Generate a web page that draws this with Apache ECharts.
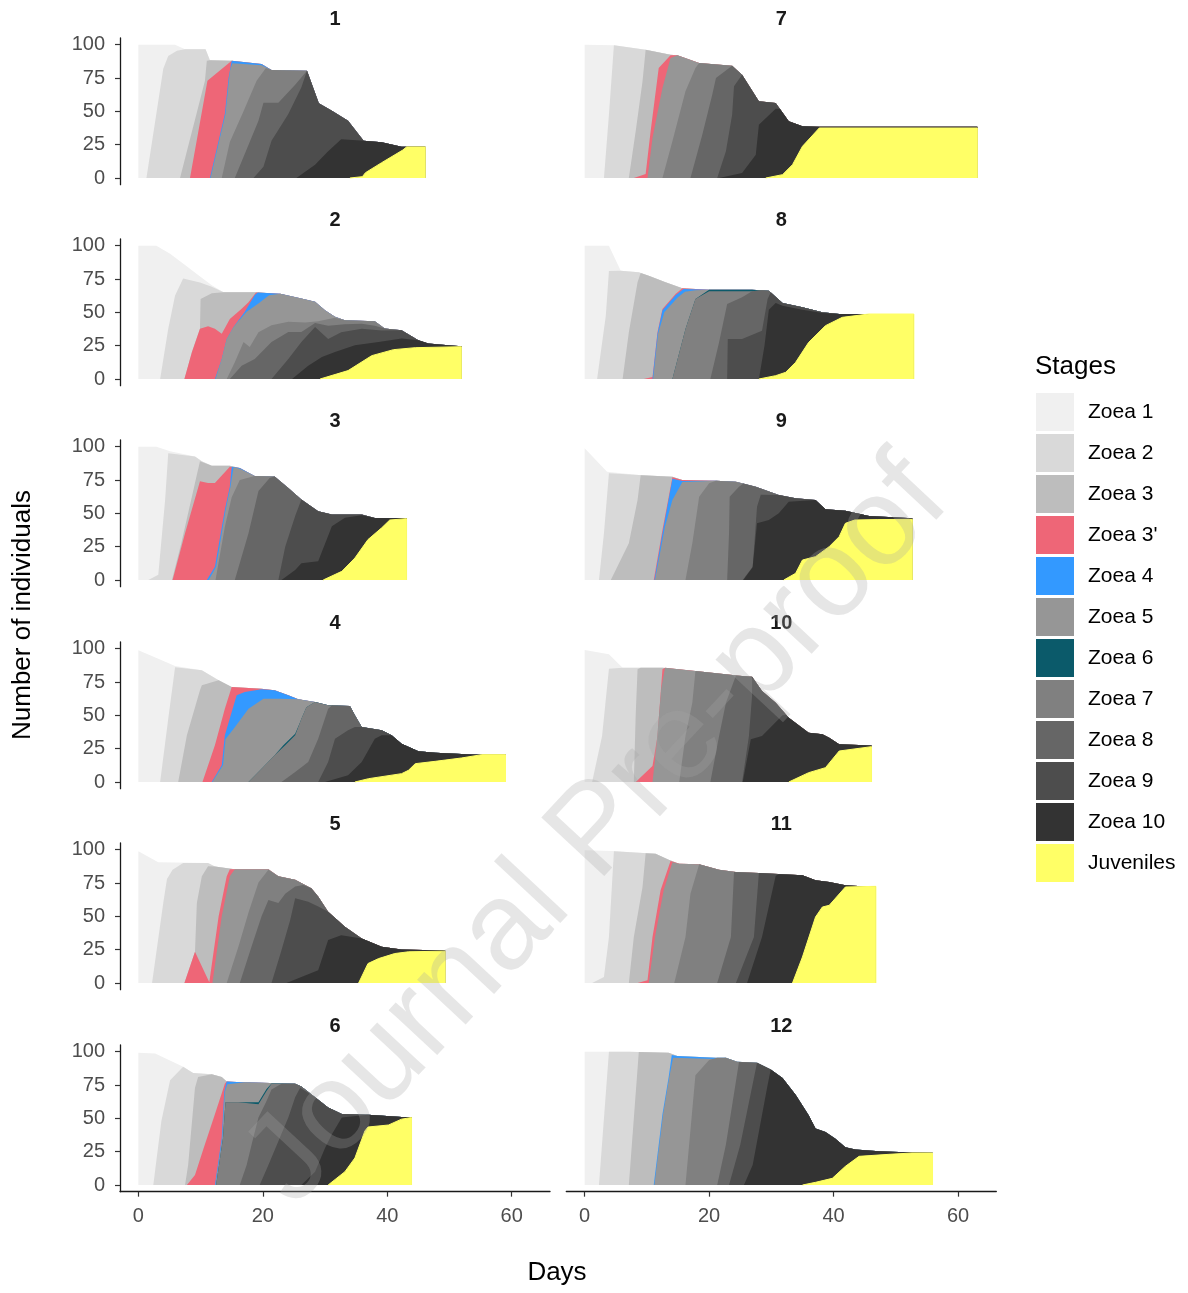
<!DOCTYPE html>
<html>
<head>
<meta charset="utf-8">
<script src="https://cdn.jsdelivr.net/npm/echarts@6/dist/echarts.min.js"></script>
<style>
html,body{margin:0;padding:0;background:#fff;}
#chart{width:1188px;height:1293px;}
</style>
</head>
<body>
<div id="chart"></div>
<script>
// ---------------- data ----------------
const stageNames = ['Zoea 1','Zoea 2','Zoea 3',"Zoea 3'",'Zoea 4','Zoea 5','Zoea 6','Zoea 7','Zoea 8','Zoea 9','Zoea 10','Juveniles'];
const stageColors = ['#F0F0F0','#D9D9D9','#BDBDBD','#EE6677','#3399FF','#969696','#0B5A6A','#808080','#666666','#4D4D4D','#333333','#FFFF66'];
const panelLabels = ['1','2','3','4','5','6','7','8','9','10','11','12'];
const dayTicks = [0,20,40,60];
const countTicks = [0,25,50,75,100];

// Upper edge (stacked top) of each stage, per panel, as [day, individuals];
// each edge is listed until it joins the edge of the stage above it.
const topZoea1 = [
 [[0,100],[5.9,100],[7.5,96.5],[10.8,96.5],[11.5,88.4],[15,88],[19.8,85.5],[21.4,81],[27.1,80.5],[29,56],[31.1,50.4],[33.7,43],[36.2,28],[39.1,26.8],[42.3,23.5],[46.1,23.5]],
 [[0,100],[2.9,100],[5.1,94],[7.5,85.5],[9.6,78],[11.8,70.4],[13.7,65],[18.7,65],[22.8,64],[26.2,60.4],[28.4,57.9],[30,51.6],[31.6,46.6],[33.2,44],[38,43.4],[39.6,37.8],[42.3,36.6],[45,29],[46.6,26.6],[49.8,25.3],[51.9,24.5]],
 [[0,100],[2.9,100],[5.1,96.5],[9.1,92.7],[10.2,89],[11.8,85.7],[14.7,85.7],[16.3,84],[18.7,78],[21.9,77.7],[24.1,69],[26.2,60.4],[28.9,51.6],[31.1,49.1],[35.9,49.1],[38,46.5],[40.2,46.5],[43.1,46.5]],
 [[0,98.75],[3.2,92.5],[5.9,87],[10.2,83.75],[12.9,76.25],[15,71.25],[19.8,70],[21.9,68.75],[24.1,65],[25.7,62],[28.4,60],[30.5,57.5],[34,57],[34.8,50],[35.9,41.25],[39.1,38.75],[40.7,35],[42.3,28.75],[45,23],[47.7,22],[51.9,21],[55.2,20.5],[59,20.5]],
 [[0,98.75],[3.2,90.5],[11.2,90],[12.3,87.4],[15.5,85.4],[20.9,85.4],[22.5,80],[25.2,77.4],[27.8,71],[28.9,64.8],[30.5,53.5],[33.2,42.2],[35.9,33.4],[39.1,27.1],[42.3,25.1],[49.3,24.4]],
 [[0,99.2],[2.7,98.7],[7.2,88.6],[8.8,84],[11.8,83],[13.4,81],[14.2,77.7],[15.8,77.2],[25.2,75.9],[26.2,73.9],[28.4,65.8],[30.5,58.2],[32.7,53.2],[36.9,52.7],[42.3,51],[43.9,51]],
 [[0,100],[4.7,99.5],[9.8,96.25],[13.8,92.5],[14.9,92],[18.4,86.25],[23.7,84.25],[25.3,77.5],[28,57.5],[30.7,56.25],[32.8,42.5],[35,38.75],[37.7,38.4],[63.1,38.4]],
 [[0,100],[3.9,100],[5.8,81.25],[8.7,80],[10.3,77.5],[13,72.5],[15.7,68],[20,67],[26.9,67],[29.6,66.25],[31.8,57],[35,53.75],[38.2,50],[40.9,48.75],[45.7,48.75],[52.9,48.75]],
 [[0,98.75],[3.6,81.25],[8.7,78.75],[14.1,77.5],[15.7,75],[21.1,74.5],[24.3,73.75],[27.5,70],[31.2,63.75],[33.9,61.25],[37.1,60],[38.7,53],[41.9,52],[45.7,48],[52.65,46.3]],
 [[0,99],[3.9,95.75],[6.1,85.75],[12.5,85.75],[17.8,83.25],[25.3,79.5],[26.9,79],[28.5,68.25],[30.7,59.5],[32.8,48.25],[36,37],[38.2,35.75],[39.3,33.25],[40.9,28.25],[46.1,27.3]],
 [[0,99.5],[4.4,99],[11.4,97],[13.5,92.5],[15.2,89.5],[18.4,89],[21.6,85],[24.3,83.25],[28,82.5],[35,80.75],[37.1,77],[39.3,75.75],[41.9,73.25],[44.6,72.5],[46.8,72.5]],
 [[0,100],[7.1,100],[13.5,99.2],[14.9,96.7],[21.1,95.4],[22.7,95.4],[24.5,92.4],[27.7,91.6],[29.9,86.6],[31.8,80.3],[33.9,67.6],[36,52.4],[37.1,42.3],[38.7,39.7],[40.3,34.7],[41.9,28.4],[43.5,26.6],[47.3,25.3],[52.6,24.3],[55.9,24.1]]
];
const topZoea2 = [
 [[1.3,0],[4,82],[4.8,91.5],[6.2,95.5],[7.5,96.5]],
 [[3.5,0],[4.8,37.6],[5.9,62.7],[7.2,75.4],[9.9,72.4],[11.8,69.2],[13.7,65]],
 [[1.6,0],[3.2,4],[4.3,60],[4.8,95],[5.1,96.5]],
 [[3.5,0],[4.8,47.5],[5.9,86],[10.2,83.75]],
 [[2.2,0],[4,60],[4.6,78],[5.5,85],[7.2,90]],
 [[2.4,0],[3.7,48],[5.1,78.5],[7.2,88.6]],
 [[3.1,0],[3.9,47.5],[4.7,99.5]],
 [[2,0],[3.4,47.5],[3.9,81],[5.8,81.25]],
 [[2.3,0],[3.1,35],[3.9,80]],
 [[1.2,0],[2.8,34.5],[3.9,85],[6.1,85.75]],
 [[1.2,0],[3.1,4.5],[3.9,34.5],[4.7,98.9]],
 [[2.3,0],[3.9,100]]
];
const topZoea3 = [
 [[6.7,0],[10.7,73],[11,88],[11.5,88.4]],
 [[7.4,0],[8.6,20],[9.9,37.6],[10,60],[11.8,64.4],[13.7,65]],
 [[5.4,0],[6.9,27.5],[9.1,72.7],[9.9,89],[10.2,89]],
 [[6.4,0],[7.8,35],[9.9,68.75],[10.2,72.5],[12.9,76.25]],
 [[7.4,0],[9.1,23.4],[9.4,60],[10.2,80],[11.2,87.5],[12.3,87.4]],
 [[7.5,0],[8,15],[9.1,73],[9.6,81],[11.8,83]],
 [[7.1,0],[8.2,35],[9.3,72.5],[9.8,96.25]],
 [[6.1,0],[7.1,35],[8.5,72.5],[9,79.5]],
 [[4.2,0],[7.1,27.5],[8.5,60],[9,78.6]],
 [[7.9,0],[8.2,50],[8.5,84.5],[9,85.75]],
 [[7.1,0],[7.9,34.5],[9.3,72],[9.8,97.3]],
 [[7.1,0],[8.7,99.8]]
];
const topZoea3b = [
 [[8.3,0],[11.1,73],[15,88]],
 [[7.4,0],[8.6,20],[9.9,37.6],[11.2,39.6],[12.3,37.6],[13.4,34],[14.7,45],[16.6,52.6],[17.7,57.6],[18.9,64.9]],
 [[5.5,0],[7.5,35],[9.9,74],[11.2,72.7],[12.3,72.7],[14.7,85]],
 [[10.3,0],[12.3,27.5],[13.9,55],[15,71.25]],
 [[7.4,0],[9.1,23.4],[11.4,0.5],[12.9,50],[14.2,80],[14.7,85.4],[15.5,85.4]],
 [[7.8,0],[9.1,7.5],[10.5,27.8],[12.3,53],[13.9,76],[14.2,77.7]],
 [[7.9,0],[9.8,3],[10.6,35],[11.9,82.5],[13.8,92],[14.9,92]],
 [[9.5,0],[10.9,1.5],[11.7,35],[12.5,52.5],[14.6,63.75],[15.7,68]],
 [[11.1,0],[12.5,37.5],[14.1,77],[15.7,75]],
 [[8.2,0],[10.9,12],[11.7,34.5],[12.5,84.5],[12.9,85.6]],
 [[8.5,0],[10.1,2],[10.9,34.5],[12.2,69.5],[13.8,91.5]],
 []
];
const topZoea4 = [
 [[11.5,0],[13.9,48],[14.5,75],[15,88]],
 [[12.3,0],[13.4,15],[14.2,30],[15.3,39],[17.1,50.4],[18.7,63],[19.2,64.8]],
 [[11,0],[12.3,10],[13.9,52.6],[14.7,70],[15,85]],
 [[11.8,0],[13.4,12.5],[13.9,35],[15,52.5],[15.8,65],[17.1,67.5],[19.8,69.5]],
 [],
 [[12.3,0],[13.4,35.4],[13.8,70],[14.2,77.7]],
 [],
 [[10.9,0],[11.7,34],[12.5,51.5],[14.6,62.8],[15.9,67.5],[20,67]],
 [[11.2,0],[12.6,37.5],[14.1,76],[15.7,74.2]],
 [],
 [],
 [[11.1,0],[12.5,53],[13.5,81],[14,97.5],[14.9,96.7]]
];
const topZoea5 = [
 [[11.6,0],[14,48],[14.7,80],[15.1,86],[19.8,84.5],[21.4,81]],
 [[12.4,0],[13.4,15],[14.2,30],[15.3,39],[17.4,50.4],[19.4,57],[21,62.8],[22.8,64]],
 [[11.3,0],[12.5,10],[14,52],[14.8,70],[15.3,84.5],[16.3,83.5],[18.7,78]],
 [[11.9,0],[13.6,12.5],[14,32],[15.5,41],[17.7,55],[20.1,62.5],[22.8,62.5],[25.7,62]],
 [[11.9,0],[13.4,50],[14.7,80],[15.5,85.4]],
 [[12.4,0],[13.5,35.4],[13.9,70],[14.3,75.5],[15.8,76.3],[17.1,77]],
 [[10.1,0],[10.9,30],[12.5,67.5],[13.8,90],[14.9,92]],
 [[11,0],[11.8,34],[12.8,50],[14.9,61],[16.1,65.5],[17.8,66.5],[20,67]],
 [[11.3,0],[12.9,40],[14.1,60],[15.7,73.5],[21.1,74.5]],
 [[10.9,0],[11.5,25],[12.3,70],[12.9,85.6]],
 [[10.3,0],[11.3,34.5],[12.7,69.5],[14.1,90.5]],
 [[11.2,0],[12.6,53],[13.6,81],[14.2,95.5],[21,94.5],[21.1,95.4]]
];
const topZoea6 = [
 [],
 [],
 [],
 [[17.7,0],[19.8,10],[21.9,20],[23.3,27.5],[23.6,28.7],[25.2,36.2],[26,45],[26.2,47.5],[27,56],[28.4,60]],
 [],
 [[12.5,0],[13.6,35],[14,62],[19.3,62],[20.6,72],[21.4,76.2]],
 [],
 [[14.1,0],[16.2,37.5],[17.8,60],[20,67]],
 [],
 [],
 [],
 []
];
const topZoea7 = [
 [[13.4,0],[14.7,27],[16.9,50],[19,73],[20.5,82.5]],
 [[14.2,0],[15.5,12.5],[16.9,27.8],[17.9,24],[19.3,35],[21.4,40.4],[24.1,42.9],[26.8,42.4],[28.9,43.4],[31.6,45.9],[33.2,44]],
 [[12.4,0],[13.9,40],[15,62],[16.3,75],[18.7,78]],
 [[17.7,0],[19.8,10],[21.9,20],[23.6,27.5],[25.2,35],[26.2,47.5],[27,56],[28.4,60]],
 [[14.2,0],[16.1,27.6],[17.7,52.8],[19.3,75.4],[20.9,85]],
 [[12.5,0],[13.6,35],[14,62],[16.1,62],[16.3,60.5],[19.3,60.5],[20.6,70.5],[21.4,75.9]],
 [[12.5,0],[14.1,27.5],[16.2,65],[17.8,82.5],[18.4,86.25]],
 [[14.1,0],[16.2,37.5],[17.8,60],[20,65.8],[26.9,65.8],[28.5,66.5]],
 [[16.2,0],[17.3,27.5],[18.4,62.5],[20,72.5],[21.1,74.5]],
 [[15.2,0],[16.2,34.5],[17.3,59.5],[17.8,83.25]],
 [[14.4,0],[16.2,34.5],[17,67],[18.4,89]],
 [[16.2,0],[17.8,82.3],[20,93.7],[21.3,95.4]]
];
const topZoea8 = [
 [[15.5,0],[19.3,43],[20.1,56.5],[22.5,56.5],[25.2,70],[27.1,80.5]],
 [[14.7,0],[16.6,10],[18.7,15],[21.4,27.8],[24.1,35.3],[26.2,35.3],[28.4,42],[30.5,40],[33.2,41],[35.9,41.5],[38,40],[39.6,37.8]],
 [[15.5,0],[17.7,35],[19.3,66.7],[21.1,76.5],[21.9,77.7]],
 [[23,0],[25.2,7.5],[27.3,15],[28.9,32.5],[30.5,55],[31.1,57.4]],
 [[16.3,0],[18.2,27.6],[19.8,50],[20.9,62.3],[22.5,60],[23.6,67],[25.2,72.4],[26.5,73.5],[27.8,71]],
 [[16.3,0],[17.4,15],[18.2,30.4],[19.3,50.6],[20.6,63],[21.4,71.6],[23,75.9]],
 [[17,0],[18.9,32.5],[20.5,62.5],[21.1,75],[23.7,84.25]],
 [[20.2,0],[21.6,27.5],[22.9,56.25],[25.3,61.25],[26.9,65.8]],
 [[22.9,0],[23.2,35],[23.3,62.5],[24.8,70],[25.5,72.3]],
 [[20.2,0],[21.6,34.5],[22.7,59.5],[24.3,79.75]],
 [[21.3,0],[23.5,34.5],[24,83.25],[24.3,83.25]],
 [[21.3,0],[22.7,30.4],[24.8,92.2]]
];
const topZoea9 = [
 [[18.5,0],[20.1,8.5],[21.4,28],[24.1,48],[26.2,68],[27.1,80.5]],
 [[21.4,0],[24.1,15],[26.2,27.8],[28.4,39],[30.5,30],[32.6,35],[35.9,37.6],[39.1,36.3],[42.3,36.6]],
 [[22.5,0],[23.6,25],[25.2,48],[26,58],[26.2,60.4]],
 [[28.9,0],[30.5,15],[31.6,32.5],[33.7,38.75],[34.8,41.25],[35.9,41.25]],
 [[21.4,0],[23,24.6],[24.4,47.2],[25.2,63.6],[27.3,61],[28.9,57.3],[30.5,53.5]],
 [[19.5,0],[20.9,15],[22.5,32.9],[24.1,50.6],[25.2,65.8],[26,73],[26.2,73.9]],
 [[21.3,0],[22.7,20],[23.7,47.5],[24,68.75],[25.3,77.5]],
 [[22.9,0],[23,30],[25.3,30],[28.5,36.25],[29.4,60],[29.9,65]],
 [[25.4,0],[27,10],[27.7,55],[28.3,64],[31.2,63.75]],
 [[25.3,0],[26.4,34.5],[26.9,64.5],[26.9,79]],
 [[24.3,0],[27.2,34.5],[28,82.5]],
 [[23.2,0],[25,30],[27.7,91.6]]
];
const topZoea10 = [
 [[25.4,0],[28.4,10],[30.5,20],[32.6,29],[36.2,28]],
 [[24.7,0],[27.3,10],[29.5,16.5],[31.6,20.3],[34.8,25.3],[38.6,27.8],[42.3,30.3],[45,29]],
 [[23,0],[25.2,7.5],[26.2,12.5],[28.9,14],[31.1,40.4],[33.2,46.6],[35.9,48.6],[38,46.5]],
 [[30,0],[33.7,5],[35.9,15],[38,32.5],[39.1,35],[40.7,35]],
 [[23.8,0],[26.2,4.5],[28.9,9.5],[30.5,32.2],[32.6,35.9],[35.9,33.4]],
 [[26.2,0],[28.4,10],[30,27.8],[31.1,38],[32.7,50.6],[36.9,52.7]],
 [[21.6,0],[25.3,3.75],[27.5,17.5],[28,40],[30.7,52],[31.4,51.7]],
 [[28,0],[28.9,25],[29.6,52],[30.7,57],[31.8,55],[35,52],[38.2,49.5],[40.9,48.75]],
 [[25.5,0],[27,9.5],[27.7,42.5],[29.6,45],[31.2,50],[32.8,58.75],[37.1,60]],
 [[25.4,0],[26.7,32],[28.5,34.5],[31.8,50],[32.4,50.3]],
 [[26.1,0],[28.5,34.5],[30.7,80.5],[31.2,81.5]],
 [[25.6,0],[27,15],[29.4,75],[29.9,86.6]]
];
const topJuveniles = [
 [[34,0],[36,1],[36.5,4],[39.1,11.5],[42.5,21],[43.1,23.3],[46.1,23.3]],
 [[29.2,0],[33.7,6.3],[37.5,17.5],[41,22],[44.5,23.5],[51.9,24.2]],
 [[29.7,0],[32.7,6.5],[34.8,16.5],[36.9,30.3],[39.1,39.1],[40.4,45],[43.1,46]],
 [[34.8,0],[37,2.5],[42.3,6.25],[43.4,8.75],[44.5,13.75],[47.7,15.5],[51.9,18],[55.2,20.5],[59,20.5]],
 [[35.4,0],[36.9,14.6],[38.6,18.3],[41.2,22.1],[43.4,23.4],[49.3,23.9]],
 [[30.5,0],[33.2,10],[34.8,20.3],[36.4,40.5],[36.9,43.5],[40.2,45],[42.3,49.4],[43.9,50.6]],
 [[29.1,0],[31.8,2.5],[33.4,10],[35,23.75],[37.7,37.5],[63.1,37.5]],
 [[28,0],[30.7,2.5],[32.3,5],[33.9,12.5],[36,27.5],[38.7,40],[41.4,46.25],[45.7,48.75],[52.9,48.75]],
 [[32,0],[33.9,5],[35,15],[37.1,17.5],[39.3,25],[40.9,32.5],[41.9,42.5],[43.4,45],[47,45.3],[52.65,45.5]],
 [[32.8,0],[36,7],[38.7,10.75],[40.9,23.25],[46.1,26.5]],
 [[33.4,0],[35,19.5],[37.1,49.5],[38.2,57],[39.3,58.25],[41.9,72],[46.8,72.5]],
 [[35,0],[37.1,2],[39.8,5],[41.9,14],[44.1,21.5],[48.9,23],[52.6,24],[55.9,24]]
];

// ---------------- build ----------------
const stageTops = [topZoea1, topZoea2, topZoea3, topZoea3b, topZoea4, topZoea5, topZoea6, topZoea7, topZoea8, topZoea9, topZoea10, topJuveniles];

const FONT = "'Liberation Sans', Arial, sans-serif";
const GRID_W = 430, GRID_H = 440 / 3;      // value 0 falls on a whole pixel
const colLeft = [120, 566.3];
const rowTops = [38, 239, 440, 642, 843, 1045];
const LAST = stageTops.length - 1;

const grids = [], xAxes = [], yAxes = [], series = [], graphics = [];

for (let p = 0; p < 12; p++) {
  const col = p < 6 ? 0 : 1;
  const row = p % 6;
  const left = colLeft[col], top = rowTops[row];
  grids.push({left: left, top: top, width: GRID_W, height: GRID_H, containLabel: false});
  const bottomRow = row === 5;
  xAxes.push({
    type: 'value', gridIndex: p, min: -2.95, max: 66.15,
    show: bottomRow,
    splitLine: {show: false},
    axisLine: {show: bottomRow, onZero: false, lineStyle: {color: '#1A1A1A', width: 1.3}},
    axisTick: {show: bottomRow, length: 5, lineStyle: {color: '#333', width: 1.2}, customValues: dayTicks},
    axisLabel: {show: bottomRow, customValues: dayTicks, color: '#4D4D4D', fontSize: 20, fontFamily: FONT, margin: 15}
  });
  const leftCol = col === 0;
  yAxes.push({
    type: 'value', gridIndex: p, min: -5, max: 105,
    show: leftCol,
    splitLine: {show: false},
    axisLine: {show: leftCol, onZero: false, lineStyle: {color: '#1A1A1A', width: 1.3}},
    axisTick: {show: leftCol, length: 5, lineStyle: {color: '#333', width: 1.2}, customValues: countTicks},
    axisLabel: {show: leftCol, customValues: countTicks, color: '#4D4D4D', fontSize: 20, fontFamily: FONT, margin: 15}
  });
  graphics.push({
    type: 'text', x: left + GRID_W / 2, y: top - 19,
    style: {text: panelLabels[p], fill: '#1A1A1A', font: 'bold 20px ' + FONT, textAlign: 'center', textVerticalAlign: 'middle'}
  });

  // complete each stage edge with the remainder of the edge above it
  let prev = null;
  for (let k = 0; k < stageTops.length; k++) {
    const own = stageTops[k][p];
    let pts = [];
    if (own && own.length) {
      pts = own.slice();
      if (prev) {
        const lastX = own[own.length - 1][0];
        prev.forEach(pt => { if (pt[0] > lastX) pts.push(pt); });
      }
      prev = pts;
    }
    const isLast = k === LAST;
    // the bottom layer also gets its right end closed and outlined in its own colour
    const drawn = (isLast && pts.length) ? pts.concat([[pts[pts.length - 1][0], 0]]) : pts;
    series.push({
      type: 'line', name: stageNames[k], xAxisIndex: p, yAxisIndex: p,
      data: drawn, symbol: 'none', showSymbol: false, silent: true,
      lineStyle: isLast ? {width: 1, color: stageColors[k]} : {width: 0, opacity: 0},
      itemStyle: {color: stageColors[k]},
      areaStyle: {color: stageColors[k], opacity: 1, origin: 0},
      animation: false
    });
  }
}

// axis titles, legend title, watermark
graphics.push({type: 'text', x: 557, y: 1273,
  style: {text: 'Days', fill: '#000', font: '26px ' + FONT, textAlign: 'center', textVerticalAlign: 'middle'}});
graphics.push({type: 'text', x: 23, y: 615, rotation: Math.PI / 2,
  style: {text: 'Number of individuals', fill: '#000', font: '26px ' + FONT, textAlign: 'center', textVerticalAlign: 'middle'}});
graphics.push({type: 'text', x: 1035, y: 367,
  style: {text: 'Stages', fill: '#000', font: '26px ' + FONT, textAlign: 'left', textVerticalAlign: 'middle'}});
graphics.push({type: 'text', x: 598, y: 832, rotation: 47 * Math.PI / 180, z: 100,
  style: {text: 'Journal Pre-proof', fill: 'rgba(165,165,165,0.28)', font: '125px ' + FONT, textAlign: 'center', textVerticalAlign: 'middle'}});

const chart = echarts.init(document.getElementById('chart'), null, {renderer: 'canvas'});
chart.setOption({
  animation: false,
  backgroundColor: '#fff',
  grid: grids,
  xAxis: xAxes,
  yAxis: yAxes,
  legend: {
    data: stageNames.map(n => ({name: n, icon: 'rect'})),
    orient: 'vertical', left: 1036, top: 393, padding: 0,
    itemWidth: 38, itemHeight: 38, itemGap: 3,
    selectedMode: false,
    textStyle: {fontSize: 21, color: '#000', fontFamily: FONT, padding: [0, 0, 0, 9]}
  },
  graphic: graphics,
  series: series
});
</script>
</body>
</html>
